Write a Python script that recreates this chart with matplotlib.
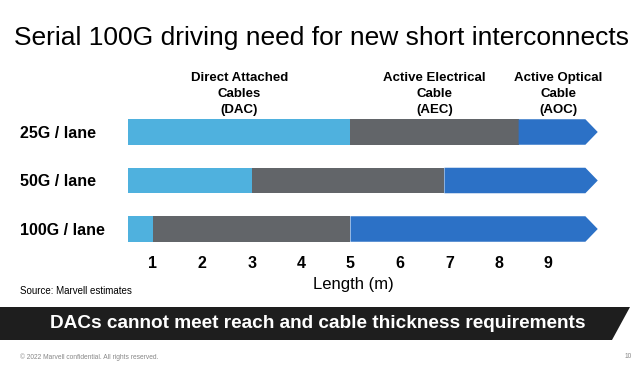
from matplotlib import pyplot as plt
from matplotlib.patches import Polygon
from matplotlib.transforms import blended_transform_factory
import numpy as np

plt.rcParams['font.family'] = ['Liberation Sans', 'DejaVu Sans']

# data
lanes = ['25G / lane', '50G / lane', '100G / lane']
bar_start = 0.5
dac_end = [5.0, 3.0, 1.0]
aec_end = [8.4, 6.9, 5.0]
aoc_end = 9.75
arrow_tip = 10.0
categories = ['Direct Attached\nCables\n(DAC)', 'Active Electrical\nCable\n(AEC)', 'Active Optical\nCable\n(AOC)']
ticks = [1, 2, 3, 4, 5, 6, 7, 8, 9]

c_dac = '#4fb1de'
c_aec = '#626569'
c_aoc = '#2c71c6'

W, H = 640, 372
fig = plt.figure(figsize=(6.4, 3.72), dpi=100)

# bar area: px 100..610 horizontally, 110..250 vertically
ax = fig.add_axes([100 / W, (H - 250) / H, 510 / W, 140 / H])
ax.set_xlim(-0.0657, 10.248)
ax.set_ylim(2.433, -0.4536)
bh = 0.526

y = np.arange(len(lanes))
ax.barh(y, np.array(dac_end) - bar_start, left=bar_start, height=bh, color=c_dac, linewidth=0)
ax.barh(y, np.array(aec_end) - np.array(dac_end), left=dac_end, height=bh, color=c_aec, linewidth=0)
for i in y:
    pts = [(aec_end[i], i - bh / 2), (aoc_end, i - bh / 2), (arrow_tip, i),
           (aoc_end, i + bh / 2), (aec_end[i], i + bh / 2)]
    ax.add_patch(Polygon(pts, closed=True, facecolor=c_aoc, edgecolor='none'))

ax.set_xticks(ticks)
ax.set_xticklabels([str(t) for t in ticks], fontsize=11.5, fontweight='bold')
ax.tick_params(axis='x', length=0, pad=4.5)
ax.set_yticks([])
for s in ax.spines.values():
    s.set_visible(False)

# row labels
tr = blended_transform_factory(fig.transFigure, ax.transData)
for i, lab in enumerate(lanes):
    ax.text(20 / W, i + 0.03, lab, transform=tr, ha='left', va='center',
            fontsize=11.5, fontweight='bold')

# category labels above bars, centred over each reach on the 25G row
starts = [bar_start, dac_end[0], aec_end[0]]
ends = [dac_end[0], aec_end[0], arrow_tip]
for st, en, cat in zip(starts, ends, categories):
    ax.text((st + en) / 2, -0.32, cat, ha='center', va='bottom', fontsize=9.5,
            fontweight='bold', linespacing=1.45)

fig.text(353 / W, 1 - 285 / H, 'Length (m)', ha='center', va='center', fontsize=12)
fig.text(20 / W, 1 - 291.5 / H, 'Source: Marvell estimates', ha='left', va='center', fontsize=7)

# title
fig.text(322 / W, 1 - 38 / H, 'Serial 100G driving need for new short interconnects',
         ha='center', va='center', fontsize=19)

# banner
banner = Polygon([(0, 1 - 307 / H), (630 / W, 1 - 307 / H), (612 / W, 1 - 340 / H), (0, 1 - 340 / H)],
                 closed=True, transform=fig.transFigure, facecolor='#1e1e1e', edgecolor='none')
fig.patches.append(banner)
fig.text(318 / W, 1 - 324 / H, 'DACs cannot meet reach and cable thickness requirements',
         ha='center', va='center', fontsize=13.7, fontweight='bold', color='white')

fig.text(20 / W, 1 - 357 / H, '\u00a9 2022 Marvell confidential. All rights reserved.',
         ha='left', va='center', fontsize=4.8, color='#888888')
fig.text(632 / W, 1 - 357 / H, '10', ha='right', va='center', fontsize=4.8, color='#888888')

fig.savefig('out.png', dpi=100)
